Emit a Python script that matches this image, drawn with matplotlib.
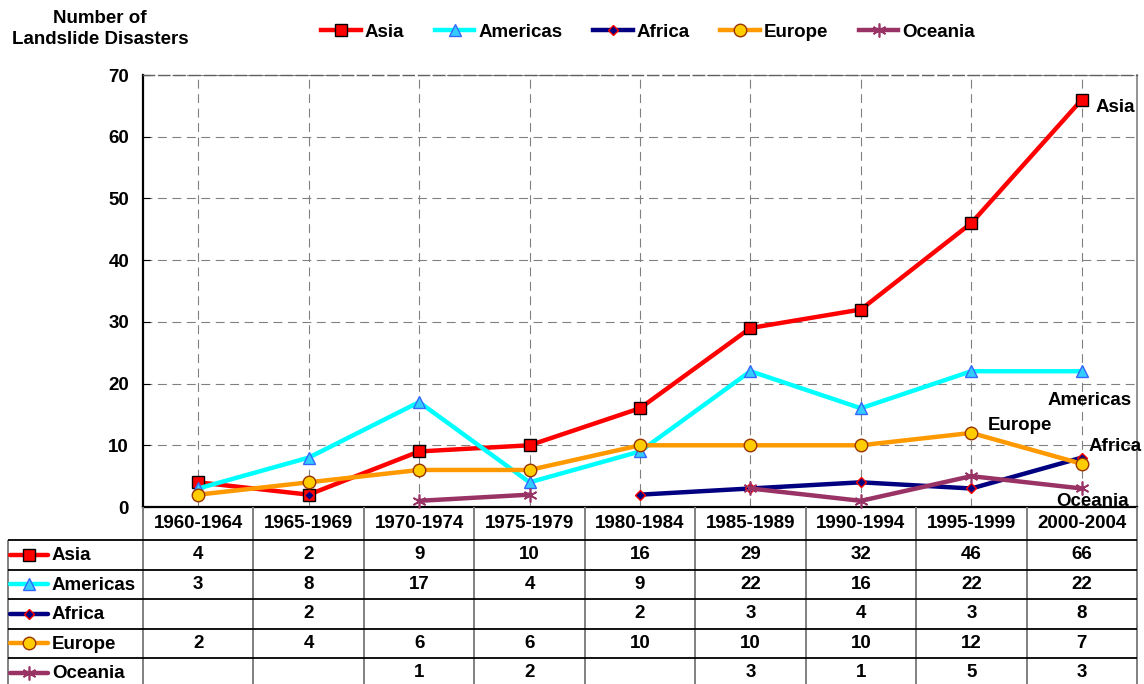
import numpy as np
import matplotlib
matplotlib.use("Agg")
import matplotlib.pyplot as plt

plt.rcParams['font.family'] = ['Liberation Sans', 'DejaVu Sans']
plt.rcParams['font.weight'] = 'bold'

periods = ["1960-1964", "1965-1969", "1970-1974", "1975-1979", "1980-1984",
           "1985-1989", "1990-1994", "1995-1999", "2000-2004"]
nan = np.nan
asia = [4, 2, 9, 10, 16, 29, 32, 46, 66]
americas = [3, 8, 17, 4, 9, 22, 16, 22, 22]
africa = [nan, 2, nan, nan, 2, 3, 4, 3, 8]
europe = [2, 4, 6, 6, 10, 10, 10, 12, 7]
oceania = [nan, nan, 1, 2, nan, 3, 1, 5, 3]
series_names = ["Asia", "Americas", "Africa", "Europe", "Oceania"]
series_values = [asia, americas, africa, europe, oceania]
y_ticks = [0, 10, 20, 30, 40, 50, 60, 70]
y_title = "Number of\nLandslide Disasters"

styles = {
    "Asia": dict(color="#FF0000", marker="s", ms=8.5, mfc="#FF0000", mec="black", mew=1.0),
    "Americas": dict(color="#00FFFF", marker="^", ms=9, mfc="#33CCFF", mec="#3366FF", mew=1.0),
    "Africa": dict(color="#000080", marker="D", ms=5.5, mfc="#000080", mec="#FF0000", mew=1.0),
    "Europe": dict(color="#FF9900", marker="o", ms=9, mfc="#FFCC00", mec="#993300", mew=1.0),
    "Oceania": dict(color="#993366", marker=(6, 2, 0), ms=10, mfc="#993366", mec="#993366", mew=1.2),
}
# end-label: index of anchor point, offset in pixels, alignment
end_labels = {
    "Asia": (8, (14, -8), "left"),
    "Americas": (8, (8, -29), "center"),
    "Europe": (7, (16, 7), "left"),
    "Africa": (8, (7, 11), "left"),
    "Oceania": (8, (11, -13), "center"),
}

W, H = 1144, 684
fig = plt.figure(figsize=(W / 100, H / 100), dpi=100)
L, R, T, B = 143, 1137, 75, 507
ax = fig.add_axes([L / W, 1 - B / H, (R - L) / W, (B - T) / H])
n = len(periods)
x = np.arange(n)
ax.set_xlim(-0.5, n - 0.5)
ax.set_ylim(0, 70)

FS = 13.5
lines = []
for name, vals in zip(series_names, series_values):
    st = styles[name]
    ln, = ax.plot(x, vals, lw=3.2, label=name, clip_on=False, zorder=3, **st)
    lines.append(ln)
    idx, off, ha = end_labels[name]
    ax.annotate(name, xy=(x[idx], vals[idx]), xytext=off, textcoords="offset pixels",
                ha=ha, va="center", fontsize=FS, fontweight="bold",
                annotation_clip=False, zorder=5)

ax.set_yticks(y_ticks)
ax.set_yticklabels([str(v) for v in y_ticks], fontsize=FS, fontweight="bold")
ax.set_xticks(x)
ax.set_xticklabels([])
ax.tick_params(axis="x", length=0)
ax.tick_params(axis="y", direction="in", length=5, pad=10, color="black")
ax.grid(True, color="#808080", lw=0.8, ls=(0, (8, 5)))
ax.set_axisbelow(True)
for s in ["left", "bottom"]:
    ax.spines[s].set_color("black")
    ax.spines[s].set_linewidth(1.6)
ax.spines["right"].set_color("#808080")
ax.spines["right"].set_linewidth(1.2)
ax.spines["top"].set_color("#606060")
ax.spines["top"].set_linewidth(1.0)
ax.spines["top"].set_linestyle((0, (8, 3)))

fig.text(100 / W, 1 - 29 / H, y_title, ha="center", va="center",
         fontsize=FS, fontweight="bold", linespacing=1.3)

fig.legend(handles=lines, loc="center", bbox_to_anchor=(648 / W, 1 - 32 / H),
           ncol=5, frameon=False, fontsize=FS, handlelength=2.1,
           handletextpad=0.2, columnspacing=1.65)

# ---- data table ----
tab = fig.add_axes([8 / W, 0, (R - 8) / W, (H - B) / H])
cat_w = (R - L) / n
left_u = -0.5 - (L - 8) / cat_w
tab.set_xlim(left_u, n - 0.5)
tab.set_ylim(H, B)
tab.axis("off")
head_bot = 540
row_h = 29.5
rows_top = [head_bot + i * row_h for i in range(len(series_names))]

def u(px):
    return -0.5 + (px - L) / cat_w

for i, p in enumerate(periods):
    tab.text(i, (B + head_bot) / 2, p, ha="center", va="center", fontsize=FS, fontweight="bold")
bounds = np.arange(n + 1) - 0.5
tab.vlines(bounds, B, H + 5, color="#808080", lw=1.4, clip_on=False)
tab.vlines([left_u], head_bot, H + 5, color="#808080", lw=1.4, clip_on=False)
for yt in rows_top:
    tab.hlines(yt, left_u, n - 0.5, color="black", lw=1.3, clip_on=False)

for r, (name, vals) in enumerate(zip(series_names, series_values)):
    yc = rows_top[r] + row_h / 2
    st = styles[name]
    tab.plot([u(10), u(48)], [yc, yc], color=st["color"], lw=3.2, solid_capstyle="round")
    tab.plot([u(29)], [yc], ls="none", marker=st["marker"], ms=st["ms"], mfc=st["mfc"],
             mec=st["mec"], mew=st["mew"])
    tab.text(u(52), yc + 1, name, ha="left", va="center", fontsize=FS, fontweight="bold")
    for i, v in enumerate(vals):
        if not np.isnan(v):
            tab.text(i, yc, str(int(v)), ha="center", va="center", fontsize=FS, fontweight="bold")

fig.savefig("out.png", dpi=100)
